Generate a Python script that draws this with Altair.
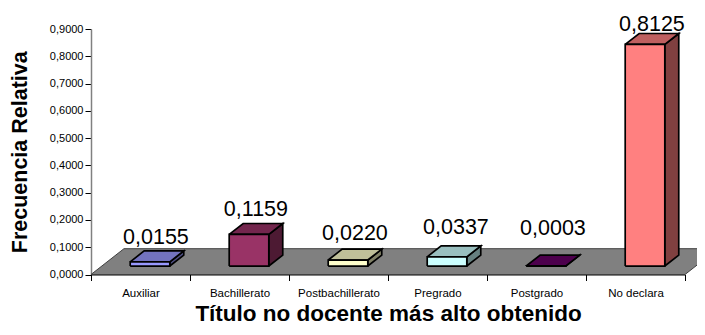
import altair as alt
import pandas as pd

categories = ["Auxiliar", "Bachillerato", "Postbachillerato", "Pregrado", "Postgrado", "No declara"]
values = [0.0155, 0.1159, 0.0220, 0.0337, 0.0003, 0.8125]
front_colors = ["#9999FF", "#993366", "#FFFFCC", "#CCFFFF", "#660066", "#FF8080"]
top_colors = ["#7373BF", "#73264D", "#BFBF99", "#99BFBF", "#4D004D", "#BF6060"]
side_colors = ["#4D4D80", "#4D1A33", "#808066", "#668080", "#330033", "#804040"]
label_lift = [0.026, 0.029, 0.033, 0.044, 0.073, 0.011]
label_shift = [0.06, 0.07, 0.07, 0.09, 0.07, 0.07]

BAR_W = 0.40
BAR_SHIFT = 0.096
BASE = 0.031
DX, DY = 0.141, 0.040
FLOOR_DX, FLOOR_DY = 0.333, 0.0946
X_MAX, Y_MAX = 6, 0.9


def face(name, color, pts):
    pts = pts + [pts[0]]
    return [{"face": name, "color": color, "x": x, "y": y, "o": k} for k, (x, y) in enumerate(pts)]


floor_rows = face("floor", "#808080", [(0, 0), (X_MAX, 0), (X_MAX + FLOOR_DX, FLOOR_DY), (FLOOR_DX, FLOOR_DY)])
rows = []
for i, v in enumerate(values):
    x0 = i + 0.5 + BAR_SHIFT - BAR_W / 2
    x1 = x0 + BAR_W
    y0, y1 = BASE, BASE + v
    rows += face(f"s{i}", side_colors[i], [(x1, y0), (x1 + DX, y0 + DY), (x1 + DX, y1 + DY), (x1, y1)])
    rows += face(f"t{i}", top_colors[i], [(x0, y1), (x1, y1), (x1 + DX, y1 + DY), (x0 + DX, y1 + DY)])
    rows += face(f"f{i}", front_colors[i], [(x0, y0), (x1, y0), (x1, y1), (x0, y1)])

labels = pd.DataFrame({
    "x": [i + 0.5 + BAR_SHIFT + s for i, s in enumerate(label_shift)],
    "y": [BASE + v + DY + l for v, l in zip(values, label_lift)],
    "t": [f"{v:.4f}".replace(".", ",") for v in values],
})

x_scale = alt.Scale(domain=[0, X_MAX], nice=False, clamp=False)
y_scale = alt.Scale(domain=[0, Y_MAX], nice=False, clamp=False)
names = "[" + ",".join(f"'{c}'" for c in categories) + ",'']"

x_axis = alt.Axis(
    values=list(range(X_MAX + 1)), labelExpr=f"{names}[datum.value]", labelOffset=49.5, labelFont="Liberation Sans",
    labelFontSize=11.5, labelColor="#000000", labelPadding=7, labelAngle=0, tickSize=6, tickColor="#000000",
    domainColor="#000000", grid=False, title="Título no docente más alto obtenido", titleFont="Liberation Sans",
    titleFontSize=22.5, titleFontWeight="bold", titleColor="#000000", titlePadding=3, labelFlush=False,
    labelOverlap=False, labelBound=False,
)
y_axis = alt.Axis(
    values=[k / 10 for k in range(10)], format=".4f", labelExpr="replace(datum.label, '.', ',')",
    labelFont="Liberation Sans", labelFontSize=11, labelColor="#000000", labelPadding=2, tickSize=6,
    tickColor="#000000", domainColor="#808080", domainWidth=1.5, grid=False, title="Frecuencia Relativa",
    titleFont="Liberation Sans", titleFontSize=21.5, titleFontWeight="bold", titleColor="#000000", titlePadding=18,
)


def faces(data, stroke, width):
    return alt.Chart(pd.DataFrame(data)).mark_line(stroke=stroke, strokeWidth=width, strokeJoin="miter").encode(
        x=alt.X("x:Q", scale=x_scale, axis=x_axis),
        y=alt.Y("y:Q", scale=y_scale, axis=y_axis),
        order="o:Q",
        detail="face:N",
        fill=alt.Fill("color:N", scale=None),
    )


text = alt.Chart(labels).mark_text(
    font="Liberation Sans", fontSize=21.5, color="#000000", align="center", baseline="alphabetic"
).encode(x=alt.X("x:Q", scale=x_scale, axis=x_axis), y=alt.Y("y:Q", scale=y_scale, axis=y_axis), text="t:N")

chart = alt.layer(faces(floor_rows, "#404040", 1), faces(rows, "#000000", 1.7), text).properties(
    width=594, height=245.5, autosize=alt.AutoSizeParams(type="none"), background="#ffffff",
    padding={"left": 83, "top": 21, "right": 12, "bottom": 52},
).configure_view(stroke=None)

chart.save("out.html", embed_options={"renderer": "svg", "actions": False})
